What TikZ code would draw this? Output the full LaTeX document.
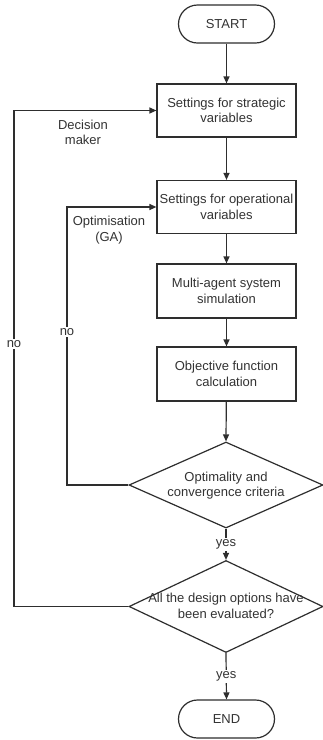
\documentclass[tikz,border=0pt]{standalone}
\usepackage{fontspec}
\setmainfont{Liberation Sans}
\usetikzlibrary{arrows.meta,shapes.geometric}
\definecolor{ln}{HTML}{2E2E2E}
\definecolor{txt}{HTML}{333333}
\begin{document}
\begin{tikzpicture}[x=1pt,y=-1pt,
  every node/.style={font=\fontsize{13}{15.5}\selectfont, text=txt},
  line/.style={draw=ln, line width=1.2pt},
  arr/.style={line, -{Triangle[length=7pt,width=6pt]}},
  procbox/.style={line, rectangle, minimum width=139pt, minimum height=53pt, align=center, inner sep=0pt},
  term/.style={line, rectangle, rounded corners=19pt, minimum width=96pt, minimum height=38pt},
  dec/.style={line, diamond, inner sep=0pt},
  lbl/.style={fill=white, inner sep=1.5pt, align=center}
]
\fill[white] (0,0) rectangle (322,740);
\useasboundingbox (0,0) rectangle (322,740);

\node[term] (start) at (226.5,24) {START};
\node[procbox] (b1) at (226.5,110.5) {Settings for strategic\\variables};
\node[procbox] (b2) at (226.5,207) {Settings for operational\\variables};
\node[procbox, minimum height=54pt] (b3) at (226.5,291) {Multi-agent system\\simulation};
\node[procbox, minimum height=54pt] (b4) at (226.5,374) {Objective function\\calculation};
\node[dec, minimum width=194pt, minimum height=86pt] (d1) at (226,485) {};
\node[align=center] (t1) at (226,485.5) {Optimality and\\convergence criteria};
\node[dec, minimum width=194pt, minimum height=92pt] (d2) at (226,606.5) {};
\node[align=center] (t2) at (226,606) {All the design options have\\been evaluated?};
\node[term] (end) at (226.5,719) {END};

\node[align=center] (dm) at (83,132.5) {Decision\\maker};
\node[align=center] (ga) at (109,230) {Optimisation\\(GA)};

\coordinate (c1) at (67,485);
\coordinate (c2) at (14,606.5);

\draw[arr] (start) -- (b1);
\draw[arr] (b1) -- (b2);
\draw[arr] (b2) -- (b3);
\draw[arr] (b3) -- (b4);
\draw[arr] (b4) -- (d1.north);
\draw[arr] (d1.south) -- node[lbl] (y1) {yes} (d2.north);
\draw[arr] (d2.south) -- node[lbl, pos=0.5] (y2) {yes} (end.north);
\draw[arr] (d1.west) -- (c1) |- (b2.west);
\draw[arr] (d2.west) -- (c2) |- (b1.west);
\node[lbl] (no1) at (67,332) {no};
\node[lbl] (no2) at (14,344) {no};
\end{tikzpicture}
\end{document}
